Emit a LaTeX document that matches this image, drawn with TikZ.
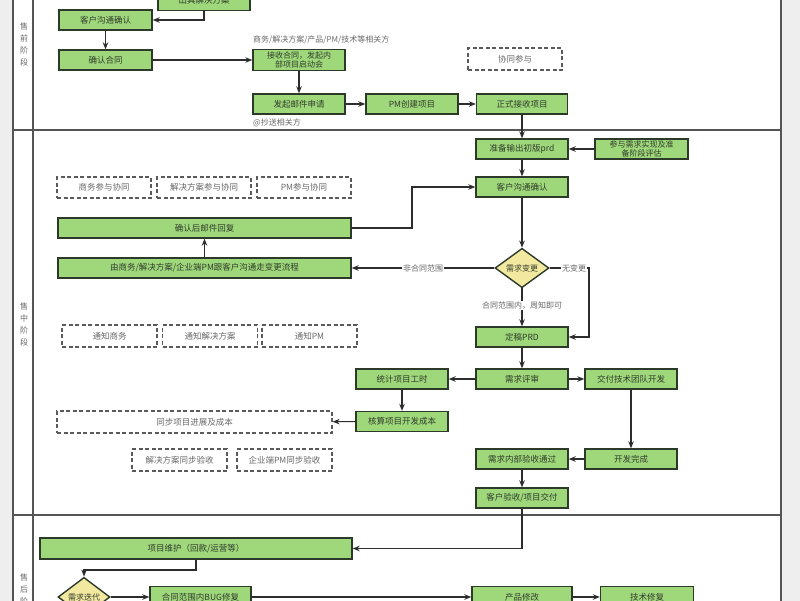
\documentclass[tikz,border=0pt]{standalone}
\usepackage{fontspec}
\newfontfamily\cjk{Noto Sans CJK SC}
\usetikzlibrary{arrows.meta,shapes.geometric}
\definecolor{bggray}{RGB}{238,238,238}
\definecolor{framec}{RGB}{85,85,85}
\definecolor{gfill}{RGB}{158,216,122}
\definecolor{gline}{RGB}{45,58,42}
\definecolor{gtext}{RGB}{50,60,45}
\definecolor{yfill}{RGB}{242,232,160}
\definecolor{dline}{RGB}{90,90,90}
\definecolor{ltext}{RGB}{105,105,105}
\definecolor{aline}{RGB}{45,45,45}
\tikzset{
  gbox/.style={draw=gline, fill=gfill, line width=1.4pt, minimum height=20pt, inner sep=1pt,
    text=gtext, align=center, font=\cjk\fontsize{8.5}{9.5}\selectfont},
  dbox/.style={draw=dline, fill=white, line width=1.2pt, dash pattern=on 4pt off 2.5pt,
    minimum height=22pt, inner sep=1pt, text=ltext, align=center, font=\cjk\fontsize{8.5}{9.5}\selectfont},
  dia/.style={diamond, draw=gline, fill=yfill, line width=1.4pt, inner sep=0pt,
    text=gtext, font=\cjk\fontsize{8}{8}\selectfont},
  arr/.style={draw=aline, line width=1.1pt, -{Stealth[length=7pt,width=5.5pt]}},
  elab/.style={fill=white, text=ltext, inner sep=1pt, font=\cjk\fontsize{8}{9}\selectfont},
  plab/.style={text=ltext, inner sep=0pt, font=\cjk\fontsize{8}{9}\selectfont},
  stage/.style={text=ltext, align=center, inner sep=0pt, font=\cjk\fontsize{8}{12}\selectfont}
}
\begin{document}
\begin{tikzpicture}[x=1pt,y=-1pt]
\useasboundingbox (0,0) rectangle (800,600);
% background and frame
\fill[bggray] (0,-5) rectangle (800,605);
\filldraw[fill=white, draw=framec, line width=1.5pt] (13,-5) rectangle (781,605);
\draw[framec, line width=1.5pt] (33,-5) -- (33,605);
\draw[framec, line width=1.5pt] (13,130) -- (781,130);
\draw[framec, line width=1.5pt] (13,515) -- (781,515);
\node[stage] (s1) at (24,44) {售\\前\\阶\\段};
\node[stage] (s2) at (24,324) {售\\中\\阶\\段};
\node[stage] (s3) at (24,595) {售\\后\\阶\\段};

% ---- pre-sale ----
\node[gbox, minimum width=92pt, minimum height=21pt] (sol) at (204,0) {出具解决方案};
\node[gbox, minimum width=93pt] (c1) at (105.5,20) {客户沟通确认};
\node[gbox, minimum width=93pt] (cont) at (105.5,60) {确认合同};
\node[gbox, minimum width=92pt, minimum height=21pt, font=\cjk\fontsize{8}{8.8}\selectfont] (recv) at (299,60) {接收合同，发起内\\部项目启动会};
\node[plab, anchor=west] (lab1) at (253,40) {商务/解决方案/产品/PM/技术等相关方};
\node[gbox, minimum width=92pt] (mail) at (299,104) {发起邮件申请};
\node[plab, anchor=west] (lab2) at (253,123) {@抄送相关方};
\node[gbox, minimum width=92pt] (pmc) at (412,104) {PM创建项目};
\node[gbox, minimum width=91pt] (accept) at (522,104) {正式接收项目};
\node[dbox, minimum width=94pt] (coop) at (515,59) {协同参与};

\draw[arr] (sol.south) |- (c1.east);
\draw[arr] (c1) -- (cont);
\draw[arr] (cont) -- (recv);
\draw[arr] (recv) -- (mail);
\draw[arr] (mail) -- (pmc);
\draw[arr] (pmc) -- (accept);

% ---- in-sale ----
\node[gbox, minimum width=92pt] (prd) at (522,149) {准备输出初版prd};
\node[gbox, minimum width=93pt, font=\cjk\fontsize{8}{8.8}\selectfont] (part) at (641.5,149) {参与需求实现及准\\备阶段评估};
\node[gbox, minimum width=92pt] (c2) at (522,187) {客户沟通确认};
\node[dia, minimum width=54pt, minimum height=31pt] (dia1) at (522,268) {需求变更};
\node[gbox, minimum width=293pt] (chg) at (204.5,268) {由商务/解决方案/企业端PM跟客户沟通走变更流程};
\node[gbox, minimum width=293pt] (ok) at (204.5,228) {确认后邮件回复};
\node[dbox, minimum width=94pt, minimum height=21pt] (d1) at (104,187.5) {商务参与协同};
\node[dbox, minimum width=94pt, minimum height=21pt] (d2) at (204,187.5) {解决方案参与协同};
\node[dbox, minimum width=94pt, minimum height=21pt] (d3) at (304,187.5) {PM参与协同};
\node[dbox, minimum width=95pt] (n1) at (109.5,336) {通知商务};
\node[dbox, minimum width=95pt] (n2) at (210,336) {通知解决方案};
\node[dbox, minimum width=95pt] (n3) at (309.5,336) {通知PM};
\node[gbox, minimum width=92pt] (final) at (522,337) {定稿PRD};
\node[gbox, minimum width=92pt] (rev) at (522,379) {需求评审};
\node[gbox, minimum width=92pt] (stat) at (402,379) {统计项目工时};
\node[gbox, minimum width=92pt] (tech) at (631,379) {交付技术团队开发};
\node[gbox, minimum width=92pt] (cost) at (402,421.5) {核算项目开发成本};
\node[dbox, minimum width=275pt] (sync) at (194.5,422) {同步项目进展及成本};
\node[dbox, minimum width=95pt] (v1) at (179.5,460) {解决方案同步验收};
\node[dbox, minimum width=95pt] (v2) at (284.5,460) {企业端PM同步验收};
\node[gbox, minimum width=92pt] (done) at (631,459) {开发完成};
\node[gbox, minimum width=92pt] (inner) at (522,459) {需求内部验收通过};
\node[gbox, minimum width=92pt] (deliv) at (522,498) {客户验收/项目交付};

\coordinate (k1) at (412,228);
\coordinate (k3) at (589,268);
\draw[arr] (accept) -- (prd);
\draw[arr] (part) -- (prd);
\draw[arr] (prd) -- (c2);
\draw[arr] (c2) -- (dia1);
\draw[arr] (dia1.west) -- node[elab, pos=0.5] (l1) {非合同范围} (chg.east);
\draw[arr] (dia1.east) -- (k3) |- (final.east);
\node[elab] (l2) at (574,268) {无变更};
\draw[arr] (dia1.south) -- node[elab, pos=0.45] (l3) {合同范围内，周知即可} (final.north);
\draw[arr] (chg) -- (ok);
\draw[arr] (ok.east) -- (k1) |- (c2.west);
\draw[arr] (final) -- (rev);
\draw[arr] (rev) -- (stat);
\draw[arr] (rev) -- (tech);
\draw[arr] (stat) -- (cost);
\draw[arr] (cost) -- (sync);
\draw[arr] (tech) -- (done);
\draw[arr] (done) -- (inner);
\draw[arr] (inner) -- (deliv);

% ---- after-sale ----
\node[gbox, minimum width=312pt, minimum height=21pt] (maint) at (196,548.5) {项目维护（回款/运营等）};
\node[dia, minimum width=52pt, minimum height=30pt] (dia2) at (84,597) {需求迭代};
\node[gbox, minimum width=101pt, minimum height=21pt] (bug) at (200.5,597) {合同范围内BUG修复};
\node[gbox, minimum width=100pt, minimum height=21pt] (prod) at (522,597) {产品修改};
\node[gbox, minimum width=93pt, minimum height=21pt] (fix) at (647,597) {技术修复};

\coordinate (k2) at (196,570);
\draw[arr] (deliv.south) |- (maint.east);
\draw[arr] (maint.south) -- (k2) -| (dia2.north);
\draw[arr] (dia2) -- (bug);
\draw[arr] (bug) -- (prod);
\draw[arr] (prod) -- (fix);
\end{tikzpicture}
\end{document}
